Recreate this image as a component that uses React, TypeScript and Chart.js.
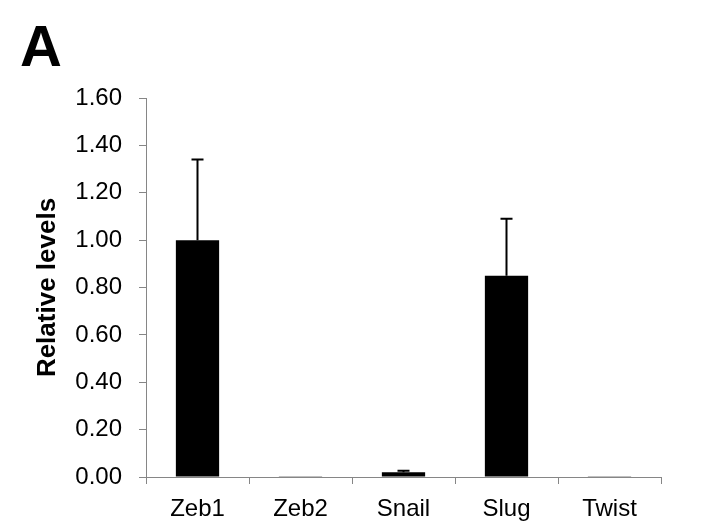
import React, { useEffect, useRef } from "react";
import { Chart, registerables } from "chart.js";

Chart.register(...registerables);

const categories = ["Zeb1", "Zeb2", "Snail", "Slug", "Twist"];
const values = [1.0, 0.003, 0.02, 0.85, 0.003];
const errors = [0.34, 0.0, 0.006, 0.24, 0.0];
const yTicks = [0, 0.2, 0.4, 0.6, 0.8, 1.0, 1.2, 1.4, 1.6];

const FONT = "'Liberation Sans', Arial, Helvetica, sans-serif";
const AXIS = "#868686";

const errorBarPlugin = {
  id: "errorBars",
  afterDatasetsDraw(chart: any) {
    const ctx = chart.ctx;
    const meta = chart.getDatasetMeta(0);
    const yScale = chart.scales.y;
    ctx.save();
    ctx.strokeStyle = "#000";
    ctx.lineWidth = 2;
    meta.data.forEach((bar: any, i: number) => {
      const err = errors[i];
      if (!err) return;
      const x = bar.x;
      const y0 = yScale.getPixelForValue(values[i]);
      const y1 = yScale.getPixelForValue(values[i] + err);
      ctx.beginPath();
      ctx.moveTo(x, y0);
      ctx.lineTo(x, y1);
      ctx.moveTo(x - 6, y1);
      ctx.lineTo(x + 6, y1);
      ctx.stroke();
    });
    ctx.restore();
  },
};

const panelLabelPlugin = {
  id: "panelLabel",
  afterDraw(chart: any) {
    const ctx = chart.ctx;
    ctx.save();
    ctx.fillStyle = "#000";
    ctx.font = `bold 58px ${FONT}`;
    ctx.textAlign = "left";
    ctx.textBaseline = "alphabetic";
    ctx.fillText("A", 20, 66);
    ctx.restore();
  },
};

export default function App() {
  const canvasRef = useRef<HTMLCanvasElement | null>(null);

  useEffect(() => {
    if (!canvasRef.current) return;
    const chart = new Chart(canvasRef.current, {
      type: "bar",
      data: {
        labels: categories,
        datasets: [
          {
            data: values,
            backgroundColor: "#000",
            borderWidth: 0,
            barPercentage: 0.42,
            categoryPercentage: 1,
          },
        ],
      },
      options: {
        animation: false,
        responsive: false,
        maintainAspectRatio: false,
        layout: { padding: { left: 0, right: 49, top: 98, bottom: 0 } },
        plugins: {
          legend: { display: false },
          tooltip: { enabled: false },
          title: { display: false },
        },
        scales: {
          x: {
            offset: true,
            grid: {
              display: true,
              offset: true,
              drawOnChartArea: false,
              drawTicks: true,
              tickLength: 7,
              color: AXIS,
              lineWidth: 1,
            },
            border: { display: true, color: AXIS, width: 1 },
            ticks: {
              color: "#000",
              font: { family: FONT, size: 24 },
              padding: 11,
              maxRotation: 0,
            },
            afterFit(scale: any) {
              scale.height = 47;
            },
          },
          y: {
            min: 0,
            max: 1.6,
            afterBuildTicks(scale: any) {
              scale.ticks = yTicks.map((v) => ({ value: v }));
            },
            grid: {
              display: true,
              drawOnChartArea: false,
              drawTicks: true,
              tickLength: 7,
              color: AXIS,
              lineWidth: 1,
            },
            border: { display: true, color: AXIS, width: 1 },
            ticks: {
              color: "#000",
              font: { family: FONT, size: 24 },
              padding: 17,
              callback: (v: any) => Number(v).toFixed(2),
            },
            title: {
              display: true,
              text: "Relative levels",
              color: "#000",
              font: { family: FONT, size: 26, weight: "bold" },
              padding: { top: 32, bottom: 0 },
            },
            afterFit(scale: any) {
              scale.width = 146;
            },
          },
        },
      },
      plugins: [errorBarPlugin, panelLabelPlugin],
    });
    return () => chart.destroy();
  }, []);

  return (
    <div style={{ position: "fixed", left: 0, top: 0, width: 710, height: 524, background: "#fff" }}>
      <canvas ref={canvasRef} width={710} height={524} style={{ width: 710, height: 524 }} />
    </div>
  );
}
